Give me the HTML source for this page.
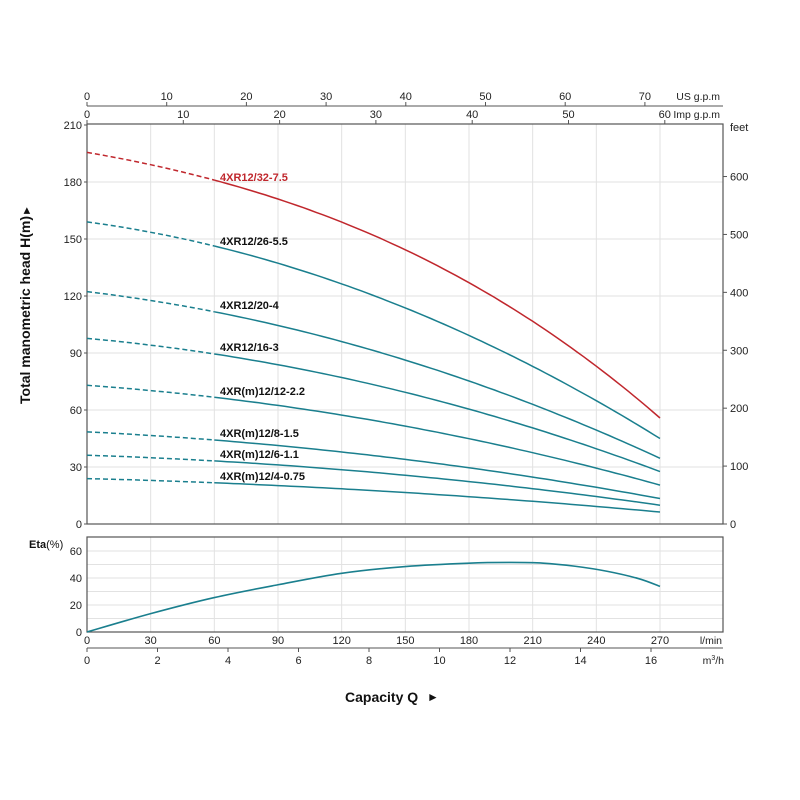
<!DOCTYPE html>
<html><head><meta charset="utf-8"><style>
html,body{margin:0;padding:0;background:#fff;}
svg{display:block;font-family:"Liberation Sans",sans-serif;}
</style></head><body>
<svg id="s" width="800" height="800" xmlns="http://www.w3.org/2000/svg"></svg>
<script>
const s=document.getElementById('s');let h='';
const L=87,R=723,T=124,B=524;
const X=q=>L+q*(573/270);
const Y=m=>B-m*1.9;
for(let q=30;q<=270;q+=30)h+=`<line x1="${X(q)}" y1="${T}" x2="${X(q)}" y2="${B}" stroke="#e2e2e2" stroke-width="1"/>`;
for(let m=30;m<210;m+=30)h+=`<line x1="${L}" y1="${Y(m)}" x2="${R}" y2="${Y(m)}" stroke="#e2e2e2" stroke-width="1"/>`;
h+=`<rect x="${L}" y="${T}" width="${R-L}" height="${B-T}" fill="none" stroke="#555" stroke-width="1.2"/>`;
for(let m=0;m<=210;m+=30){h+=`<text x="82" y="${Y(m)+4}" font-size="11" text-anchor="end" fill="#222">${m}</text><line x1="84" x2="${L}" y1="${Y(m)}" y2="${Y(m)}" stroke="#555"/>`;}
for(let f=0;f<=600;f+=100){const y=B-f*0.3048*1.9;h+=`<line x1="${R}" x2="${R+4}" y1="${y}" y2="${y}" stroke="#555"/><text x="730" y="${y+4}" font-size="11" fill="#222">${f}</text>`;}
h+=`<text x="730" y="131" font-size="11" fill="#222">feet</text>`;
h+=`<line x1="${L}" y1="106" x2="${R}" y2="106" stroke="#555"/>`;
for(let g=0;g<=70;g+=10){const x=L+g*7.97;h+=`<line x1="${x}" x2="${x}" y1="102" y2="106" stroke="#555"/><text x="${x}" y="100" font-size="11" text-anchor="middle" fill="#222">${g}</text>`;}
h+=`<text x="720" y="100" font-size="10.5" text-anchor="end" fill="#222">US g.p.m</text>`;
for(let g=0;g<=60;g+=10){const x=L+g*9.63;h+=`<line x1="${x}" x2="${x}" y1="${T-4}" y2="${T}" stroke="#555"/><text x="${x}" y="118" font-size="11" text-anchor="middle" fill="#222">${g}</text>`;}
h+=`<text x="720" y="118" font-size="10.5" text-anchor="end" fill="#222">Imp g.p.m</text>`;
const C=[
['#c0272d',195.6,181,55.8,'4XR12/32-7.5',181,127],
['#1a7f8e',159,146.3,45,'4XR12/26-5.5',245],
['#1a7f8e',122.3,111.7,34.6,'4XR12/20-4',309],
['#1a7f8e',97.7,89.5,27.6,'4XR12/16-3',351],
['#1a7f8e',73,66.7,20.5,'4XR(m)12/12-2.2',395],
['#1a7f8e',48.5,44.2,13.4,'4XR(m)12/8-1.5',437],
['#1a7f8e',36.2,33.2,9.9,'4XR(m)12/6-1.1',458],
['#1a7f8e',23.9,21.7,6.3,'4XR(m)12/4-0.75',480]];
for(const [c,h0,h6,h27,lab,ly,h18] of C){
 let f;
 if(h18!==undefined){
  const xs=[0,60,180,270],ys=[h0,h6,h18,h27];
  f=q=>{let r=0;for(let i=0;i<4;i++){let t=ys[i];for(let j=0;j<4;j++)if(j!=i)t*=(q-xs[j])/(xs[i]-xs[j]);r+=t;}return r;};
 } else {
  const b=((h27-h0)-4.5*(h6-h0))/(72900-16200);const a=((h6-h0)-3600*b)/60;
  f=q=>h0+a*q+b*q*q;
 }
 let d1='',d2='';
 for(let q=0;q<=60;q+=3)d1+=(q?'L':'M')+X(q).toFixed(1)+','+Y(f(q)).toFixed(1);
 for(let q=60;q<=270;q+=3)d2+=(q>60?'L':'M')+X(q).toFixed(1)+','+Y(f(q)).toFixed(1);
 h+=`<path d="${d1}" fill="none" stroke="${c}" stroke-width="1.5" stroke-dasharray="5,3"/>`;
 h+=`<path d="${d2}" fill="none" stroke="${c}" stroke-width="1.5"/>`;
 h+=`<text x="220" y="${ly}" font-size="11" fill="${c=='#c0272d'?'#c0272d':'#111'}" style="font-weight:600">${lab}</text>`;
}
const ET=537,EB=632,EY=e=>EB-e*1.35;
for(let q=30;q<=270;q+=30)h+=`<line x1="${X(q)}" y1="${ET}" x2="${X(q)}" y2="${EB}" stroke="#e2e2e2"/>`;
for(let e=10;e<=60;e+=10)h+=`<line x1="${L}" y1="${EY(e)}" x2="${R}" y2="${EY(e)}" stroke="#e2e2e2"/>`;
h+=`<rect x="${L}" y="${ET}" width="${R-L}" height="${EB-ET}" fill="none" stroke="#555" stroke-width="1.2"/>`;
for(let e=0;e<=60;e+=20)h+=`<text x="82" y="${EY(e)+4}" font-size="11" text-anchor="end" fill="#222">${e}</text>`;
h+=`<text x="29" y="548" font-size="11" font-weight="bold" fill="#111">Eta<tspan font-weight="normal">(%)</tspan></text>`;
const ep=[[0,0],[30,13.6],[60,25.5],[90,35],[120,43.5],[150,48.5],[180,51],[200,51.5],[215,51],[230,48.7],[245,45],[260,39.5],[270,33.8]];
let pts=ep.map(p=>[X(p[0]),EY(p[1])]);let d='M'+pts[0];
for(let i=0;i<pts.length-1;i++){const p0=pts[i-1]||pts[i],p1=pts[i],p2=pts[i+1],p3=pts[i+2]||p2;
 d+=`C${p1[0]+(p2[0]-p0[0])/6},${p1[1]+(p2[1]-p0[1])/6} ${p2[0]-(p3[0]-p1[0])/6},${p2[1]-(p3[1]-p1[1])/6} ${p2[0]},${p2[1]}`;}
h+=`<path d="${d}" fill="none" stroke="#1a7f8e" stroke-width="1.6"/>`;
for(let q=0;q<=270;q+=30)h+=`<text x="${X(q)}" y="644" font-size="11" text-anchor="middle" fill="#222">${q}</text>`;
h+=`<text x="722" y="644" font-size="10.5" text-anchor="end" fill="#222">l/min</text>`;
h+=`<line x1="${L}" y1="648" x2="${R}" y2="648" stroke="#555"/>`;
for(let m=0;m<=16;m+=2){const x=L+m*35.25;h+=`<line x1="${x}" x2="${x}" y1="648" y2="652" stroke="#555"/><text x="${x}" y="664" font-size="11" text-anchor="middle" fill="#222">${m}</text>`;}
h+=`<text x="724" y="664" font-size="10.5" text-anchor="end" fill="#222">m<tspan font-size="7" dy="-4">3</tspan><tspan dy="4">/h</tspan></text>`;
h+=`<text x="345" y="702" font-size="14" font-weight="bold" fill="#111">Capacity Q</text><text x="427" y="701" font-size="12" fill="#111">►</text>`;
h+=`<text transform="translate(30,404) rotate(-90)" font-size="14" font-weight="bold" fill="#111">Total manometric head H(m)</text><text transform="translate(30,216) rotate(-90)" font-size="11" fill="#111">►</text>`;
s.innerHTML=h;
</script>
</body></html>
